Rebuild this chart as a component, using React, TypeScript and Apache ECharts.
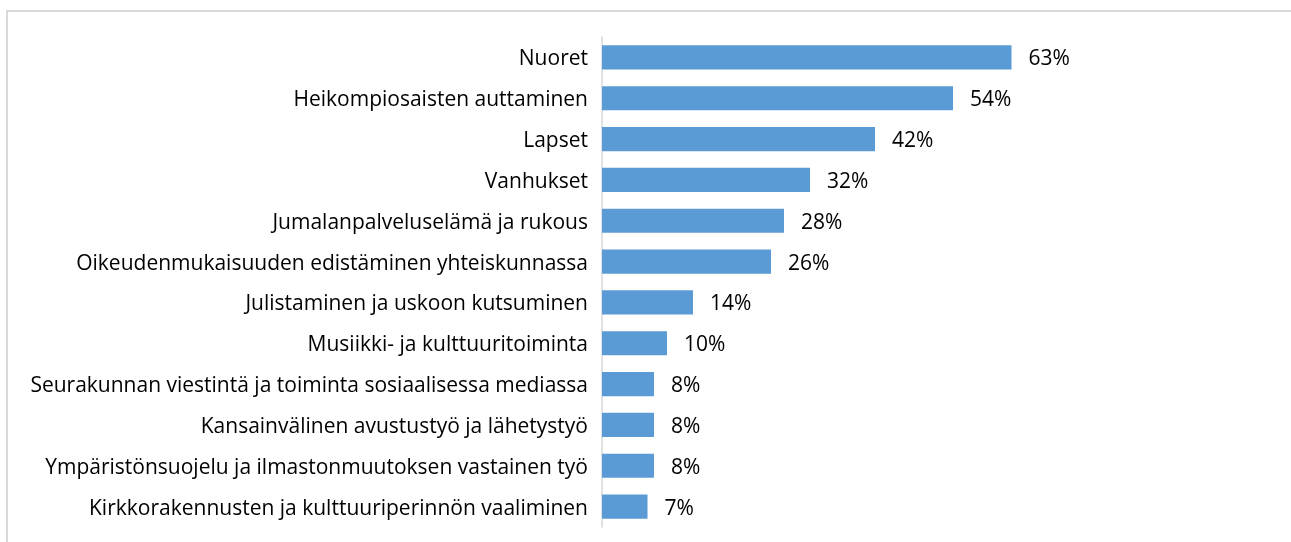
import React, { useEffect, useRef } from "react";
import * as echarts from "echarts";

const categories = [
  "Nuoret",
  "Heikompiosaisten auttaminen",
  "Lapset",
  "Vanhukset",
  "Jumalanpalveluselämä ja rukous",
  "Oikeudenmukaisuuden edistäminen yhteiskunnassa",
  "Julistaminen ja uskoon kutsuminen",
  "Musiikki- ja kulttuuritoiminta",
  "Seurakunnan viestintä ja toiminta sosiaalisessa mediassa",
  "Kansainvälinen avustustyö ja lähetystyö",
  "Ympäristönsuojelu ja ilmastonmuutoksen vastainen työ",
  "Kirkkorakennusten ja kulttuuriperinnön vaaliminen",
];
const values = [63, 54, 42, 32, 28, 26, 14, 10, 8, 8, 8, 7];

export default function App() {
  const ref = useRef<HTMLDivElement>(null);
  useEffect(() => {
    if (!ref.current) return;
    const chart = echarts.init(ref.current, null, { renderer: "svg" });
    const font = "'Open Sans', 'Noto Sans', sans-serif";
    chart.setOption({
      animation: false,
      graphic: [
        {
          type: "rect",
          shape: { x: 7, y: 11, width: 1300, height: 600 },
          style: { fill: "none", stroke: "#d9d9d9", lineWidth: 2 },
          silent: true,
        },
      ],
      grid: { left: 602, top: 37, bottom: 15, right: 39, containLabel: false },
      xAxis: {
        type: "value",
        min: 0,
        max: 100,
        show: false,
      },
      yAxis: {
        type: "category",
        data: categories,
        inverse: true,
        axisLine: { show: true, lineStyle: { color: "#d9d9d9", width: 1.5 } },
        axisTick: { show: false },
        axisLabel: {
          color: "#000",
          fontSize: 21,
          fontFamily: font,
          margin: 14,
        },
      },
      series: [
        {
          type: "bar",
          data: values,
          barCategoryGap: "41%",
          itemStyle: { color: "#5b9bd5" },
          label: {
            show: true,
            position: "right",
            distance: 17,
            formatter: "{c}%",
            color: "#000",
            fontSize: 21,
            fontFamily: font,
          },
        },
      ],
    });
    return () => chart.dispose();
  }, []);
  return (
    <div
      ref={ref}
      style={{ position: "fixed", left: 0, top: 0, width: 1291, height: 542 }}
    />
  );
}
